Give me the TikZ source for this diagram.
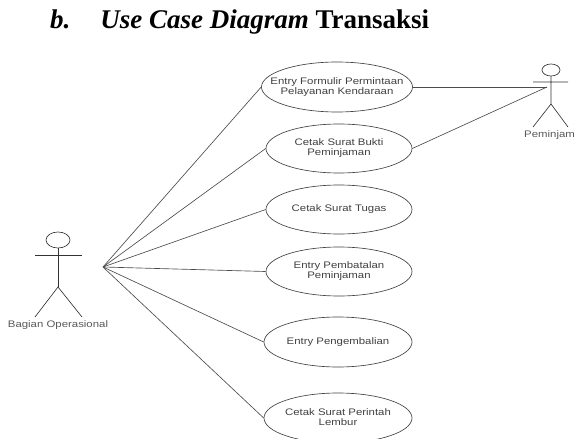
\documentclass[tikz,border=0pt]{standalone}
\usepackage{fontspec}
\setmainfont{Liberation Serif}
\setsansfont[FakeStretch=1.2]{Liberation Sans}
\usetikzlibrary{shapes.geometric}
\newcommand{\casetext}[1]{\makebox[0pt]{\begin{tabular}{@{}c@{}}#1\end{tabular}}}
\tikzset{
  x=1pt,y=-1pt,
  usecase/.style={draw=black!75,ellipse,line width=.65pt,inner sep=0pt,font=\sffamily\fontsize{9.5}{10}\selectfont,text=black!75},
  link/.style={draw=black!70,line width=.65pt},
  stick/.style={draw=black!80,line width=.65pt},
  actorlabel/.style={font=\sffamily\fontsize{9.5}{10}\selectfont,text=black!65,inner sep=0pt}
}
\begin{document}
\begin{tikzpicture}
\useasboundingbox (0,0) rectangle (574,439);
\begin{scope}
\clip (0,0) rectangle (574,439);
\node[anchor=base west,inner sep=0pt,font=\fontsize{27}{30}\selectfont\bfseries] (title) at (50,28) {\textit{b.}\hspace{30pt}\textit{Use Case Diagram} Transaksi};
\node[usecase,minimum width=151pt,minimum height=50pt] (e1) at (337,87) {\casetext{Entry Formulir Permintaan\\Pelayanan Kendaraan}};
\node[usecase,minimum width=146pt,minimum height=49pt] (e2) at (339,148.5) {\casetext{Cetak Surat Bukti\\Peminjaman}};
\node[usecase,minimum width=146pt,minimum height=49pt] (e3) at (339,209.5) {\casetext{Cetak Surat Tugas}};
\node[usecase,minimum width=146pt,minimum height=49pt] (e4) at (339,271.5) {\casetext{Entry Pembatalan\\Peminjaman}};
\node[usecase,minimum width=148pt,minimum height=50pt] (e5) at (338,342) {\casetext{Entry Pengembalian}};
\node[usecase,minimum width=148pt,minimum height=50pt] (e6) at (338,418) {\casetext{Cetak Surat Perintah\\Lembur}};
\coordinate (a) at (103,267);
\coordinate (p) at (547,87);
\foreach \n in {e1,e2,e3,e4,e5,e6} \draw[link] (a) -- (\n.west);
\draw[link] (e1.east) -- (p);
\draw[link] (e2.east) -- (p);
% left actor
\draw[stick] (58,240) ellipse (12 and 8);
\draw[stick] (58,248) -- (58,287);
\draw[stick] (35,255) -- (82,255);
\draw[stick] (35,317) -- (58,287) -- (82,317);
\node[actorlabel] (l1) at (58,325) {Bagian Operasional};
% right actor
\draw[stick] (551,70) ellipse (9 and 6);
\draw[stick] (551,76) -- (551,104) (533,82) -- (568,82) (533,127) -- (551,104) -- (568,127);
\node[actorlabel,anchor=west] (l2) at (524,135) {Peminjam};
\end{scope}
\end{tikzpicture}
\end{document}
